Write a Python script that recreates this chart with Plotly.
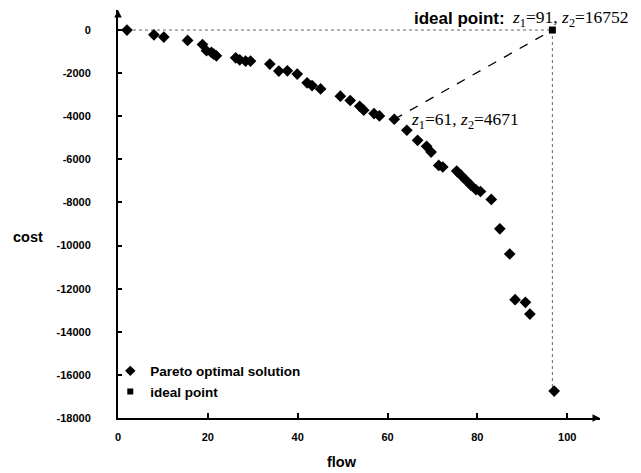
import plotly.graph_objects as go

# Pareto optimal solutions (flow, cost)
pareto_flow = [2, 8, 10.2, 15.5, 18.8, 19.7, 20.8, 21.3, 21.9, 26.2, 27.1, 28.4, 29.5,
               33.8, 35.8, 37.7, 39.9, 42.1, 43.2, 45.1, 49.5, 51.7, 53.8, 54.7, 57, 58.2,
               61.5, 64.3, 66.7, 68.7, 69.7, 71.4, 72.3, 75.4, 76.4, 77.5, 78.6, 79.7, 80.7,
               83.1, 85, 87.2, 88.4, 90.7, 91.7, 97.1]
pareto_cost = [0, -220, -325, -480, -670, -960, -1040, -1115, -1195, -1290, -1380, -1440, -1440,
               -1580, -1905, -1890, -2045, -2450, -2575, -2730, -3070, -3270, -3535, -3720, -3875, -3985,
               -4140, -4650, -5115, -5395, -5660, -6280, -6355, -6545, -6745, -6975, -7210, -7410, -7490,
               -7860, -9225, -10390, -12510, -12635, -13180, -16752]

ideal_flow = [96.7]
ideal_cost = [0]

knee_idx = 26  # the "z1=61, z2=4671" solution

x_ticks = [0, 20, 40, 60, 80, 100]
x_labels = ['0', '20', '40', '60', '80', '100']
y_ticks = [0, -2000, -4000, -6000, -8000, -10000, -12000, -14000, -16000, -18000]
y_labels = ['0', '-2000', '-4000', '-6000', '-8000', '-10000', '-12000', '-14000', '-16000', '-18000']

fig = go.Figure()

# guide lines through the ideal point
fig.add_trace(go.Scatter(x=[pareto_flow[0], ideal_flow[0]], y=[ideal_cost[0], ideal_cost[0]],
                         mode='lines', line=dict(color='#666', width=1, dash='dot'),
                         showlegend=False, hoverinfo='skip'))
fig.add_trace(go.Scatter(x=[ideal_flow[0], ideal_flow[0]], y=[ideal_cost[0], pareto_cost[-1]],
                         mode='lines', line=dict(color='#666', width=1, dash='dot'),
                         showlegend=False, hoverinfo='skip'))
fig.add_trace(go.Scatter(x=[pareto_flow[knee_idx], ideal_flow[0]], y=[pareto_cost[knee_idx], ideal_cost[0]],
                         mode='lines', line=dict(color='black', width=1.3, dash='dash'),
                         showlegend=False, hoverinfo='skip'))

fig.add_trace(go.Scatter(x=pareto_flow, y=pareto_cost, mode='markers', showlegend=False,
                         marker=dict(symbol='diamond', size=9, color='black')))
fig.add_trace(go.Scatter(x=ideal_flow, y=ideal_cost, mode='markers', showlegend=False,
                         marker=dict(symbol='square', size=7, color='black')))

# legend entries with the small symbols of the original
fig.add_trace(go.Scatter(x=[None], y=[None], mode='markers', name='Pareto optimal solution',
                         marker=dict(symbol='diamond', size=8, color='black')))
fig.add_trace(go.Scatter(x=[None], y=[None], mode='markers', name='ideal point',
                         marker=dict(symbol='square', size=6, color='black')))

tickfont = dict(family='Liberation Sans, Arial', size=11, color='black', weight='bold')

fig.update_xaxes(range=[0, 107.3], tickvals=x_ticks, ticktext=x_labels, ticks='inside', ticklen=5,
                 tickwidth=2, tickcolor='black', showline=True, linecolor='black', linewidth=2,
                 showgrid=False, zeroline=False, tickfont=tickfont, ticklabelstandoff=8)
fig.update_yaxes(range=[-18000, 930], tickvals=y_ticks, ticktext=y_labels, ticks='inside', ticklen=4,
                 tickwidth=1.5, tickcolor='black', showline=True, linecolor='black', linewidth=2,
                 showgrid=False, zeroline=False, tickfont=tickfont, ticklabelstandoff=23)

# the page body adds an 8px margin, so the figure is drawn 8px smaller and shifted
fig.update_layout(
    width=633, height=465,
    margin=dict(l=110, r=41, t=2, b=55),
    plot_bgcolor='white', paper_bgcolor='white',
    legend=dict(x=-0.016, y=0.153, xanchor='left', yanchor='top', bgcolor='rgba(0,0,0,0)',
                itemwidth=30, tracegroupgap=0,
                font=dict(family='Liberation Sans, Arial', size=13.5, color='black', weight='bold')),
    annotations=[
        # axis arrows
        dict(x=0, y=1, xref='paper', yref='paper', ax=0, ay=8, text='', showarrow=True,
             arrowhead=2, arrowsize=1, arrowwidth=1.5, arrowcolor='black'),
        dict(x=1, y=0, xref='paper', yref='paper', ax=-8, ay=0, text='', showarrow=True,
             arrowhead=2, arrowsize=1, arrowwidth=1.5, arrowcolor='black'),
        # axis titles
        dict(x=-0.187, y=0.444, xref='paper', yref='paper', text='<b>cost</b>', showarrow=False,
             xanchor='center', yanchor='middle',
             font=dict(family='Liberation Sans, Arial', size=14.5, color='black')),
        dict(x=0.465, y=-0.108, xref='paper', yref='paper', text='<b>flow</b>', showarrow=False,
             xanchor='center', yanchor='middle',
             font=dict(family='Liberation Sans, Arial', size=14.5, color='black')),
        # ideal point label
        dict(x=ideal_flow[0], y=ideal_cost[0], xref='x', yref='y', xanchor='right', yanchor='bottom',
             xshift=-45, yshift=0, text='<b>ideal point:</b>', showarrow=False,
             font=dict(family='Liberation Sans, Arial', size=17, color='black')),
        dict(x=ideal_flow[0], y=ideal_cost[0], xref='x', yref='y', xanchor='left', yanchor='bottom',
             xshift=-42, yshift=-2,
             text='<i>z</i><sub>1</sub>=91, <i>z</i><sub>2</sub>=16752', showarrow=False,
             font=dict(family='Liberation Serif, Times New Roman', size=17.5, color='black')),
        # knee label
        dict(x=pareto_flow[knee_idx], y=pareto_cost[knee_idx], xref='x', yref='y', xanchor='left',
             yanchor='middle', xshift=15, yshift=-1,
             text='<i>z</i><sub>1</sub>=61, <i>z</i><sub>2</sub>=4671', showarrow=False,
             font=dict(family='Liberation Serif, Times New Roman', size=17.5, color='black')),
    ],
)

fig.write_html("out.html")
